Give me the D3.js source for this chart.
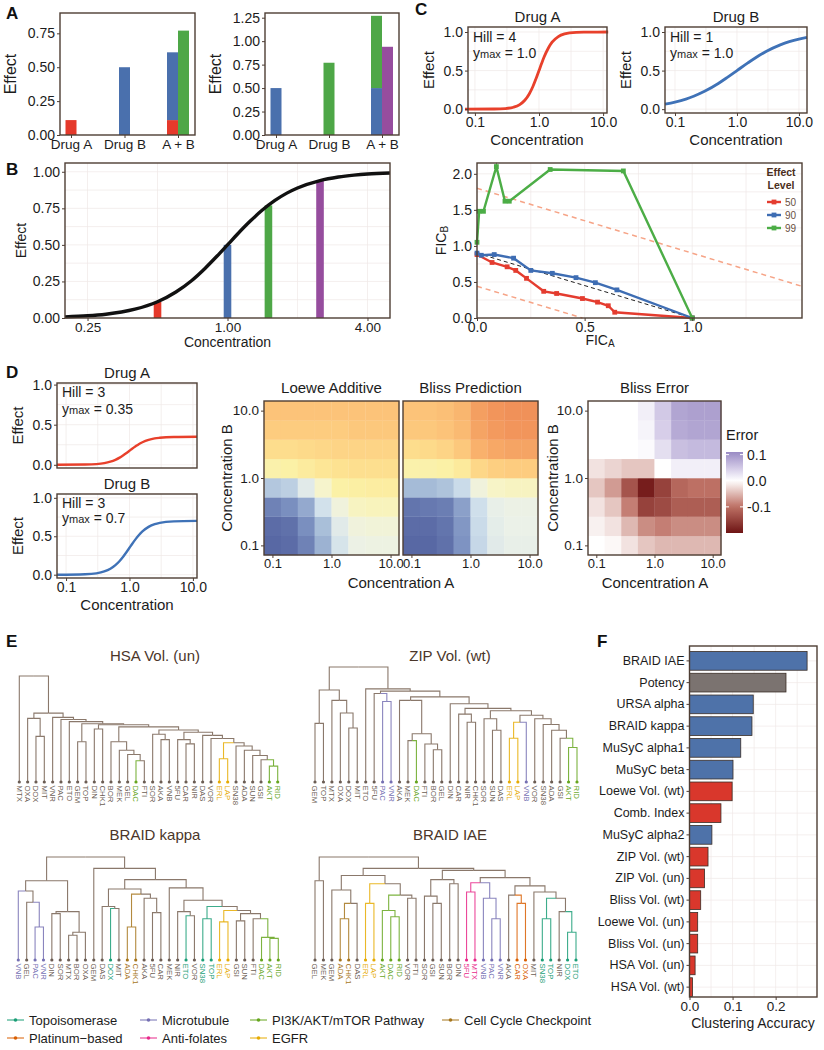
<!DOCTYPE html>
<html>
<head>
<meta charset="utf-8">
<script src="https://cdn.jsdelivr.net/npm/d3@7"></script>
<style>
  body { margin: 0; background: #fff; }
</style>
</head>
<body>
<script>
// ---------- data ----------
// panel A
const aCats = ["Drug A", "Drug B", "A + B"];
const aLeftRed = [0.11, 0, 0.11];
const aLeftBlue = [0, 0.5, 0.5];
const aLeftGreen = [0, 0, 0.77];
const aRightBlue = [0.5, 0, 0.5];
const aRightGreen = [0, 0.77, 0.77];
const aRightPurple = [0, 0, 0.94];
const aLeftTicks = [0, 0.25, 0.5, 0.75];
const aRightTicks = [0, 0.25, 0.5, 0.75, 1, 1.25];

// panel B
const bConc = [0.2, 0.25, 0.3, 0.35, 0.4, 0.5, 0.6, 0.7, 0.8, 0.9, 1, 1.1, 1.25, 1.4, 1.6, 1.8, 2, 2.5, 3, 3.5, 4, 5];
const bEffect = [0.008, 0.015, 0.026, 0.041, 0.06, 0.111, 0.178, 0.255, 0.339, 0.422, 0.5, 0.571, 0.661, 0.733, 0.804, 0.854, 0.889, 0.94, 0.964, 0.977, 0.985, 0.992];
const bBarConc = [0.5, 1, 1.5, 2.5];
const bBarEffect = [0.11, 0.5, 0.77, 0.94];
const bTicks = [0.25, 1, 4];
const effectTicks = [0, 0.25, 0.5, 0.75, 1];

// panel C, single drugs
const cConcA = [0.07, 0.2, 0.3, 0.4, 0.5, 0.6, 0.7, 0.8, 0.9, 1, 1.1, 1.2, 1.4, 1.6, 2, 2.5, 3, 5, 12];
const cEffectA = [0, 0.002, 0.008, 0.025, 0.059, 0.115, 0.194, 0.291, 0.396, 0.5, 0.594, 0.675, 0.793, 0.868, 0.941, 0.975, 0.988, 0.998, 1.0];
const cConcB = [0.069, 0.1, 0.15, 0.2, 0.3, 0.5, 0.7, 1, 1.5, 2, 3, 5, 7, 10, 13.5];
const cEffectB = [0.065, 0.091, 0.13, 0.167, 0.231, 0.333, 0.412, 0.5, 0.6, 0.667, 0.75, 0.833, 0.875, 0.909, 0.931];
const concTicks = [0.1, 1, 10];
const unitTicks = [0, 0.5, 1];

// panel C, isobologram (FIC_A, FIC_B)
const ficLevels = ["50", "90", "99"];
const fic50 = [[0, 0.88], [0.07, 0.77], [0.14, 0.71], [0.18, 0.66], [0.23, 0.55], [0.31, 0.37], [0.37, 0.34], [0.49, 0.27], [0.56, 0.22], [0.61, 0.17], [0.64, 0.08], [1.0, 0]];
const fic90 = [[0, 0.9], [0.02, 0.87], [0.08, 0.88], [0.17, 0.83], [0.25, 0.66], [0.35, 0.62], [0.46, 0.56], [0.55, 0.49], [0.65, 0.39], [1.0, 0]];
const fic99 = [[0, 1.05], [0.01, 1.48], [0.03, 1.48], [0.09, 2.1], [0.13, 1.62], [0.15, 1.62], [0.34, 2.06], [0.68, 2.04], [1.0, 0]];
const ficAdditive = [[0, 0.9], [1.0, 0]];
const ficUpper = [[0, 1.8], [1.51, 0.44]];
const ficLower = [[0, 0.44], [0.49, 0]];
const ficXTicks = [0, 0.5, 1];
const ficYTicks = [0, 0.5, 1, 1.5, 2];

// panel D, single drugs
const dConc = [0.072, 0.2, 0.3, 0.4, 0.5, 0.6, 0.7, 0.8, 0.9, 1, 1.1, 1.25, 1.4, 1.6, 2, 2.5, 3, 5, 11.6];
const dEffectA = [0, 0.003, 0.009, 0.021, 0.039, 0.062, 0.089, 0.119, 0.148, 0.175, 0.2, 0.231, 0.257, 0.281, 0.311, 0.329, 0.337, 0.347, 0.35];
const dEffectB = [0, 0.006, 0.018, 0.042, 0.078, 0.125, 0.179, 0.237, 0.295, 0.35, 0.4, 0.463, 0.513, 0.563, 0.622, 0.658, 0.675, 0.694, 0.7];

// panel D, heatmaps: rows = concentration B (low -> high), columns = concentration A
const concGrid = [0.1, 0.193, 0.373, 0.72, 1.389, 2.683, 5.179, 10];
const loeweGrid = [
  [0.00, 0.01, 0.06, 0.17, 0.30, 0.37, 0.38, 0.38],
  [0.01, 0.02, 0.09, 0.20, 0.33, 0.40, 0.41, 0.41],
  [0.06, 0.09, 0.15, 0.29, 0.40, 0.47, 0.48, 0.48],
  [0.22, 0.24, 0.33, 0.45, 0.52, 0.53, 0.54, 0.54],
  [0.51, 0.52, 0.55, 0.58, 0.60, 0.61, 0.61, 0.61],
  [0.62, 0.62, 0.63, 0.64, 0.65, 0.65, 0.65, 0.65],
  [0.68, 0.68, 0.68, 0.68, 0.68, 0.69, 0.69, 0.69],
  [0.70, 0.70, 0.70, 0.70, 0.70, 0.70, 0.70, 0.70]
];
const blissGrid = [
  [0.00, 0.00, 0.02, 0.10, 0.26, 0.33, 0.35, 0.35],
  [0.01, 0.01, 0.03, 0.11, 0.27, 0.34, 0.36, 0.36],
  [0.03, 0.04, 0.05, 0.13, 0.28, 0.35, 0.37, 0.37],
  [0.19, 0.19, 0.21, 0.27, 0.40, 0.46, 0.47, 0.47],
  [0.51, 0.51, 0.52, 0.56, 0.64, 0.67, 0.68, 0.68],
  [0.62, 0.63, 0.65, 0.69, 0.74, 0.76, 0.77, 0.77],
  [0.69, 0.69, 0.70, 0.72, 0.77, 0.79, 0.80, 0.80],
  [0.70, 0.70, 0.71, 0.73, 0.78, 0.80, 0.81, 0.81]
];
const errorGrid = [
  [0.00, -0.005, -0.02, -0.04, -0.05, -0.05, -0.05, -0.05],
  [-0.01, -0.02, -0.05, -0.08, -0.09, -0.08, -0.08, -0.08],
  [-0.02, -0.04, -0.09, -0.15, -0.14, -0.12, -0.12, -0.12],
  [-0.04, -0.07, -0.13, -0.19, -0.15, -0.11, -0.10, -0.10],
  [-0.02, -0.03, -0.04, -0.04, 0.00, 0.015, 0.015, 0.015],
  [0.00, 0.00, 0.00, 0.005, 0.03, 0.06, 0.065, 0.065],
  [0.00, 0.00, 0.00, 0.01, 0.045, 0.08, 0.085, 0.085],
  [0.00, 0.00, 0.00, 0.015, 0.05, 0.085, 0.09, 0.09]
];
const errorTicks = [0.1, 0, -0.1];

// panel E, drug classes and dendrograms ([height, left, right], leaves are names)
const groupNames = ["Topoisomerase", "Platinum\u2212based", "Microtubule", "Anti-folates", "PI3K/AKT/mTOR Pathway", "EGFR", "Cell Cycle Checkpoint"];
const groupDrugs = [["DOX", "ETO", "SN38", "TOP"], ["CAR", "OXA"], ["VNB", "PAC", "VNR"], ["5FU", "MTX"], ["DAC", "AKT", "RID"], ["ERL", "LAP"], ["ADA", "CHK1"]];

const hsaTree =
[1.00, "MTX",
  [0.65,
    [0.60, "OXA", [0.43, "DOX", "MIT"]],
    [0.61, "VNR",
      [0.59, "PAC",
        [0.57, "ETO",
          [0.55,
            [0.38, "GEM", "TOP"],
            [0.54,
              [0.50, "DIN", "CHK1"],
              [0.52,
                [0.38, "BOR", [0.30, "MEK", [0.26, "GEL", [0.20, "DAC", "FTI"]]]],
                [0.49,
                  [0.45, "SOR", [0.40, "AKA", "VNB"]],
                  [0.47,
                    [0.40, "5FU", [0.36, "CAR", "NIR"]],
                    [0.44, "DAS",
                      [0.41, "VOR",
                        [0.37,
                          [0.22, "ERL", "LAP"],
                          [0.34, "SN38", [0.30, "ADA", [0.25, "SUN", [0.21, "GSI", [0.15, "AKT", "RID"]]]]]
                        ]
                      ]
                    ]
                  ]
                ]
              ]
            ]
          ]
        ]
      ]
    ]
  ]
];
const hsaColored = ["DAC", "ERL", "LAP", "AKT", "RID"];

const zipTree =
[1.00,
  [0.80,
    [0.51, "GEM", "TOP"],
    [0.71, "MTX", [0.60, "OXA", [0.47, "DOX", "MIT"]]]
  ],
  [0.81, "ETO",
    [0.79,
      [0.77, "5FU", [0.70, "PAC", "VNR"]],
      [0.74,
        [0.71, "AKA", [0.42, [0.36, "MEK", "DAC"], [0.33, "FTI", [0.28, "BOR", "GEL"]]]],
        [0.68, "DIN",
          [0.64,
            [0.59, "CAR", [0.52, "NIR", "CHK1"]],
            [0.62,
              [0.55, "SOR", [0.45, "SUN", "DAS"]],
              [0.58,
                [0.52, [0.38, "ERL", "LAP"], "VNB"],
                [0.55, "VOR", [0.50, "SN38", [0.45, "ADA", [0.38, "GSI", [0.30, "AKT", "RID"]]]]]
              ]
            ]
          ]
        ]
      ]
    ]
  ]
];
const zipColored = ["PAC", "VNR", "DAC", "ERL", "LAP", "VNB", "AKT", "RID"];

const kappaTree =
[1.00,
  [0.77,
    [0.67, "VNB", [0.56, "GEL", [0.32, "PAC", "VNR"]]],
    [0.47, [0.45, "DIN", "SOR"], [0.27, [0.24, "MTX", "BOR"], "OXA"]]
  ],
  [0.89, "GEM",
    [0.78,
      [0.69,
        [0.52, "DAS", [0.50, "DOX", "MIT"]],
        [0.64, [0.32, "ADA", "CHK1"], [0.60, "AKA", [0.46, "5FU", "CAR"]]]
      ],
      [0.70, "MEK",
        [0.58,
          [0.47, "NIR", [0.43, "ETO", "VOR"]],
          [0.52,
            [0.40, "SN38", "TOP"],
            [0.48,
              [0.37, "ERL", "LAP"],
              [0.45, [0.38, "GSI", "SUN"], [0.40, "FTI", [0.22, "DAC", [0.21, "AKT", "RID"]]]]
            ]
          ]
        ]
      ]
    ]
  ]
];
const kappaColored = ["VNB", "PAC", "VNR", "DOX", "ADA", "CHK1", "ETO", "SN38", "TOP", "ERL", "LAP", "DAC", "AKT", "RID"];

const iaeTree =
[1.00,
  [0.77, "GEL", "MEK"],
  [0.89,
    [0.82,
      [0.68, "GEM", [0.55, [0.40, "ADA", "CHK1"], "DAS"]],
      [0.74,
        [0.55, "ERL", "LAP"],
        [0.63, [0.48, "AKT", [0.42, "DAC", "RID"]], [0.60, "VOR", "FTI"]]
      ]
    ],
    [0.87,
      [0.78, [0.62, "SOR", [0.55, "GSI", "SUN"]], [0.74, "BOR", "DIN"]],
      [0.80,
        [0.75, [0.66, "5FU", "MTX"], [0.60, "VNB", [0.40, "PAC", "VNR"]]],
        [0.72,
          [0.63, "AKA", [0.55, "CAR", "OXA"]],
          [0.66, "MIT", [0.60, [0.40, "SN38", "TOP"], [0.47, "NIR", [0.27, "DOX", "ETO"]]]]
        ]
      ]
    ]
  ]
];
const iaeColored = ["ADA", "CHK1", "ERL", "LAP", "AKT", "DAC", "RID", "5FU", "MTX", "VNB", "PAC", "VNR", "CAR", "OXA", "SN38", "TOP", "DOX", "ETO"];

// panel F
const fLabels = ["BRAID IAE", "Potency", "URSA alpha", "BRAID kappa", "MuSyC alpha1", "MuSyC beta", "Loewe Vol. (wt)", "Comb. Index", "MuSyC alpha2", "ZIP Vol. (wt)", "ZIP Vol. (un)", "Bliss Vol. (wt)", "Loewe Vol. (un)", "Bliss Vol. (un)", "HSA Vol. (un)", "HSA Vol. (wt)"];
const fValues = [0.273, 0.224, 0.148, 0.145, 0.119, 0.101, 0.099, 0.073, 0.052, 0.043, 0.035, 0.026, 0.019, 0.019, 0.013, 0.007];
const fKinds = ["param", "potency", "param", "param", "param", "param", "volume", "volume", "param", "volume", "volume", "volume", "volume", "volume", "volume", "volume"];
const fTicks = [0, 0.1, 0.2];

// ---------- styles ----------
const FONT = "'Liberation Sans', Arial, Helvetica, sans-serif";
const FRAME = "#4e3e34";
const INK = "#1c1c1c";
const GRID = "#efe8e6";
const RED = "#e5392b", BLUE = "#4a70ad", GREEN = "#4ea747", PURPLE = "#964d9e";
const groupColors = ["#1b9e77", "#d95f02", "#7570b3", "#e7298a", "#66a61e", "#e6ab02", "#a6761d"];
const BRANCH = "#8a786b";
const fColors = { param: "#4e72a9", potency: "#7b7370", volume: "#d9372c" };

const svg = d3.select("body").append("svg")
  .attr("width", 824).attr("height", 1050)
  .style("font-family", FONT);

// ---------- helpers ----------
function frame(x0, x1, y0, y1) {
  svg.append("rect").attr("x", x0).attr("y", y0)
    .attr("width", x1 - x0).attr("height", y1 - y0)
    .attr("fill", "none").attr("stroke", FRAME).attr("stroke-width", 1.4);
}

function styleAxis(g, fs) {
  g.attr("font-family", FONT).attr("font-size", fs);
  g.select(".domain").remove();
  g.selectAll(".tick line").attr("stroke", FRAME);
  g.selectAll(".tick text").attr("fill", INK);
}

function leftAxis(scale, x, vals, fmt, fs) {
  const g = svg.append("g").attr("transform", `translate(${x},0)`)
    .call(d3.axisLeft(scale).tickValues(vals).tickFormat(fmt).tickSize(3).tickPadding(2));
  styleAxis(g, fs);
  return g;
}

function bottomAxis(scale, y, vals, fmt, fs) {
  const g = svg.append("g").attr("transform", `translate(0,${y})`)
    .call(d3.axisBottom(scale).tickValues(vals).tickFormat(fmt).tickSize(3).tickPadding(1));
  styleAxis(g, fs);
  return g;
}

function grid(xs, ys, xv, yv, x0, x1, y0, y1) {
  const g = svg.append("g").attr("stroke", GRID).attr("stroke-width", 0.7);
  xv.forEach(v => g.append("line").attr("x1", xs(v)).attr("x2", xs(v)).attr("y1", y0).attr("y2", y1));
  yv.forEach(v => g.append("line").attr("x1", x0).attr("x2", x1).attr("y1", ys(v)).attr("y2", ys(v)));
}

function text(x, y, s, fs, opts = {}) {
  const t = svg.append("text").attr("x", x).attr("y", y).text(s)
    .attr("font-size", fs).attr("fill", opts.fill || INK)
    .attr("text-anchor", opts.anchor || "middle");
  if (opts.weight) t.attr("font-weight", opts.weight);
  if (opts.rotate) t.attr("transform", `rotate(${opts.rotate},${x},${y})`);
  return t;
}

function panelLetter(x, y, s) {
  text(x, y, s, 17, { anchor: "start", weight: "bold", fill: "#111" });
}

const f2 = d3.format(".2f"), f1 = d3.format(".1f");
const zip = (xs, ys) => xs.map((v, i) => [v, ys[i]]);

// ---------- panel A ----------
function barPanel(x0, x1, y0, y1, yMax, ticks, lower, upper, side, cLow, cUp, cSide) {
  const xs = d3.scalePoint().domain(aCats).range([x0 + 11, x1 - 17]);
  const ys = d3.scaleLinear().domain([0, yMax]).range([y1, y0]);
  const bw = 11;
  aCats.forEach((c, i) => {
    const cx = xs(c), two = side[i] > 0;
    const lx = two ? cx - bw : cx - bw / 2;
    let base = 0;
    [[lower[i], cLow], [upper[i], cUp]].forEach(([v, col]) => {
      if (v > 0) {
        svg.append("rect").attr("x", lx).attr("y", ys(base + v)).attr("width", bw)
          .attr("height", ys(base) - ys(base + v)).attr("fill", col);
        base += v;
      }
    });
    if (two) {
      svg.append("rect").attr("x", cx).attr("y", ys(side[i])).attr("width", bw)
        .attr("height", ys(0) - ys(side[i])).attr("fill", cSide);
    }
  });
  frame(x0, x1, y0, y1);
  leftAxis(ys, x0, ticks, f2, 14);
  bottomAxis(xs, y1, aCats, d => d, 13.5);
  text(x0 - 44, (y0 + y1) / 2, "Effect", 16, { rotate: -90 });
}
barPanel(60, 195, 13, 135, 0.9, aLeftTicks, aLeftRed, aLeftBlue, aLeftGreen, RED, BLUE, GREEN);
barPanel(265, 399, 13, 135, 1.3, aRightTicks, aRightBlue, aRightGreen, aRightPurple, BLUE, GREEN, PURPLE);
panelLetter(6, 19, "A");

// ---------- panel B ----------
{
  const x0 = 65, x1 = 390, y0 = 163, y1 = 318;
  const xs = d3.scaleLog().base(2).domain([0.2, 5]).range([x0, x1]);
  const ys = d3.scaleLinear().domain([0, 1.06]).range([y1, y0]);
  grid(xs, ys, [0.25, 0.5, 1, 2, 4], [0.125, 0.25, 0.375, 0.5, 0.625, 0.75, 0.875, 1], x0, x1, y0, y1);
  const bColors = [RED, BLUE, GREEN, PURPLE];
  bBarConc.forEach((c, i) => {
    svg.append("rect").attr("x", xs(c) - 3.8).attr("y", ys(bBarEffect[i]))
      .attr("width", 7.6).attr("height", ys(0) - ys(bBarEffect[i])).attr("fill", bColors[i]);
  });
  svg.append("path").datum(zip(bConc, bEffect))
    .attr("d", d3.line().x(d => xs(d[0])).y(d => ys(d[1])).curve(d3.curveMonotoneX))
    .attr("fill", "none").attr("stroke", "#111").attr("stroke-width", 3.4);
  frame(x0, x1, y0, y1);
  leftAxis(ys, x0, effectTicks, f2, 14);
  bottomAxis(xs, y1, bTicks, f2, 13.5);
  text((x0 + x1) / 2, 347, "Concentration", 14);
  text(26, (y0 + y1) / 2, "Effect", 14, { rotate: -90 });
  panelLetter(6, 175, "B");
}

// ---------- panel C, single drug curves ----------
function hillPanel(x0, x1, y0, y1, dom, yDom, conc, eff, color, title, hill, ymax, opts) {
  const xs = d3.scaleLog().domain(dom).range([x0, x1]);
  const ys = d3.scaleLinear().domain(yDom).range([y1, y0]);
  grid(xs, ys, [0.1, 0.316, 1, 3.16, 10], opts.gridY, x0, x1, y0, y1);
  svg.append("path").datum(zip(conc, eff))
    .attr("d", d3.line().x(d => xs(d[0])).y(d => ys(d[1])).curve(d3.curveMonotoneX))
    .attr("fill", "none").attr("stroke", color).attr("stroke-width", opts.lw);
  frame(x0, x1, y0, y1);
  leftAxis(ys, x0, unitTicks, f1, opts.fs);
  if (opts.xAxis) bottomAxis(xs, y1, concTicks, f1, opts.fs);
  text((x0 + x1) / 2, y0 - 5, title, 15);
  text(x0 + 5, y0 + opts.ann1, "Hill = " + hill, opts.fs, { anchor: "start" });
  const t = text(x0 + 5, y0 + opts.ann2, "y", opts.fs, { anchor: "start" });
  t.append("tspan").attr("font-size", opts.fs - 3).text("max");
  t.append("tspan").text(" = " + ymax);
  text(x0 - opts.labOff, (y0 + y1) / 2, "Effect", 15, { rotate: -90 });
}
hillPanel(468, 607, 27, 113, [0.078, 11.5], [-0.05, 1.065], cConcA, cEffectA, "#e8402b", "Drug A", 4, "1.0",
  { gridY: [0, 0.25, 0.5, 0.75, 1], lw: 2.8, fs: 14, xAxis: true, ann1: 15, ann2: 31, labOff: 34 });
hillPanel(665, 807, 27, 113, [0.069, 13.5], [-0.05, 1.065], cConcB, cEffectB, "#3f72b7", "Drug B", 1, "1.0",
  { gridY: [0, 0.25, 0.5, 0.75, 1], lw: 2.8, fs: 14, xAxis: true, ann1: 15, ann2: 31, labOff: 34 });
text(537, 145, "Concentration", 15);
text(736, 145, "Concentration", 15);
panelLetter(415, 15, "C");

// ---------- panel C, isobologram ----------
{
  const x0 = 477, x1 = 802, y0 = 163, y1 = 318;
  const xs = d3.scaleLinear().domain([0, 1.51]).range([x0, x1]);
  const ys = d3.scaleLinear().domain([0, 2.15]).range([y1, y0]);
  grid(xs, ys, [0.25, 0.5, 0.75, 1, 1.25], [0.25, 0.5, 0.75, 1, 1.25, 1.5, 1.75, 2], x0, x1, y0, y1);
  const line = d3.line().x(d => xs(d[0])).y(d => ys(d[1]));
  [ficUpper, ficLower].forEach(d => svg.append("path").datum(d).attr("d", line)
    .attr("fill", "none").attr("stroke", "#f6a487").attr("stroke-width", 1.5).attr("stroke-dasharray", "5,4"));
  svg.append("path").datum(ficAdditive).attr("d", line)
    .attr("fill", "none").attr("stroke", "#222").attr("stroke-width", 1).attr("stroke-dasharray", "4,3");
  const ficColors = ["#e43c2f", "#3e6db3", "#4cad46"];
  [fic50, fic90, fic99].forEach((d, i) => {
    svg.append("path").datum(d).attr("d", line)
      .attr("fill", "none").attr("stroke", ficColors[i]).attr("stroke-width", 2.4);
    svg.append("g").selectAll("rect").data(d).join("rect")
      .attr("x", p => xs(p[0]) - 2.4).attr("y", p => ys(p[1]) - 2.4)
      .attr("width", 4.8).attr("height", 4.8).attr("fill", ficColors[i]);
  });
  frame(x0, x1, y0, y1);
  leftAxis(ys, x0, ficYTicks, f1, 14);
  bottomAxis(xs, y1, ficXTicks, f1, 14);
  const tx = text(600, 345, "FIC", 14);
  tx.append("tspan").attr("font-size", 10).attr("dy", 2).text("A");
  const ty = text(446, (y0 + y1) / 2, "FIC", 14, { rotate: -90 });
  ty.append("tspan").attr("font-size", 10).attr("dy", 2).text("B");
  // legend
  text(781, 176, "Effect", 10.5, { weight: "bold", fill: "#4a2e20" });
  text(781, 189, "Level", 10.5, { weight: "bold", fill: "#4a2e20" });
  ficLevels.forEach((lv, i) => {
    const ly = 202 + i * 13;
    svg.append("line").attr("x1", 767).attr("x2", 781).attr("y1", ly).attr("y2", ly)
      .attr("stroke", ficColors[i]).attr("stroke-width", 2.4);
    svg.append("rect").attr("x", 771.6).attr("y", ly - 2.4).attr("width", 4.8).attr("height", 4.8).attr("fill", ficColors[i]);
    text(785, ly + 3.5, lv, 10, { anchor: "start", fill: "#6a5042" });
  });
}

// ---------- panel D, single drugs ----------
hillPanel(57, 197, 383, 468, [0.072, 11.6], [-0.04, 1.02], dConc, dEffectA, "#e8402b", "Drug A", 3, "0.35",
  { gridY: [0, 0.25, 0.5, 0.75, 1], lw: 2.4, fs: 14, xAxis: false, ann1: 14, ann2: 31, labOff: 34 });
hillPanel(57, 197, 494, 578, [0.072, 11.6], [-0.043, 1.05], dConc, dEffectB, "#3f72b7", "Drug B", 3, "0.7",
  { gridY: [0, 0.25, 0.5, 0.75, 1], lw: 2.4, fs: 14, xAxis: true, ann1: 14, ann2: 29, labOff: 34 });
text(127, 610, "Concentration", 15);
panelLetter(6, 378, "D");

// ---------- panel D, heatmaps ----------
const edges = concGrid.map((c, i) => i === 0 ? c / Math.sqrt(concGrid[1] / c) : Math.sqrt(concGrid[i - 1] * c));
edges.push(concGrid[7] * Math.sqrt(concGrid[7] / concGrid[6]));
const effColor = d3.scaleLinear()
  .domain([0, 0.1, 0.2, 0.28, 0.36, 0.45, 0.52, 0.6, 0.68, 0.75, 0.82])
  .range(["#5868a4", "#7e93c2", "#a9bfd9", "#cfdfeb", "#ebf1e8", "#f6f4cc", "#fbf1a6", "#fde291", "#fdcc7f", "#f8ad69", "#ef8c56"])
  .clamp(true);
const errColor = d3.scaleLinear()
  .domain([-0.2, -0.1, 0, 0.05, 0.11])
  .range(["#6e1414", "#bd7064", "#ffffff", "#d2c9e6", "#9a8bc4"])
  .clamp(true);

function heatmap(x0, x1, y0, y1, gridVals, color, title, yAxis) {
  const xs = d3.scaleLog().domain([edges[0], edges[8]]).range([x0, x1]);
  const ys = d3.scaleLog().domain([edges[0], edges[8]]).range([y1, y0]);
  gridVals.forEach((row, r) => row.forEach((v, c) => {
    svg.append("rect").attr("x", xs(edges[c])).attr("y", ys(edges[r + 1]))
      .attr("width", xs(edges[c + 1]) - xs(edges[c]) + 0.3)
      .attr("height", ys(edges[r]) - ys(edges[r + 1]) + 0.3)
      .attr("fill", color(v));
  }));
  frame(x0, x1, y0, y1);
  bottomAxis(xs, y1, concTicks, f1, 13);
  if (yAxis) leftAxis(ys, x0, concTicks, f1, 13.5);
  text((x0 + x1) / 2, y0 - 8, title, 15);
}
heatmap(264, 399, 401, 555, loeweGrid, effColor, "Loewe Additive", true);
heatmap(403, 538, 401, 555, blissGrid, effColor, "Bliss Prediction", false);
heatmap(588, 721, 401, 555, errorGrid, errColor, "Bliss Error", true);
text(401, 588, "Concentration A", 15);
text(655, 588, "Concentration A", 15);
text(232, 478, "Concentration B", 15, { rotate: -90 });
text(558, 478, "Concentration B", 15, { rotate: -90 });
{
  // error legend
  const lx = 726, ly0 = 452, ly1 = 533;
  const ls = d3.scaleLinear().domain([-0.2, 0.11]).range([ly1, ly0]);
  const grad = svg.append("defs").append("linearGradient").attr("id", "errGrad")
    .attr("x1", 0).attr("x2", 0).attr("y1", 1).attr("y2", 0);
  d3.range(0, 1.0001, 0.05).forEach(t => {
    const v = -0.2 + t * 0.31;
    grad.append("stop").attr("offset", t).attr("stop-color", errColor(v));
  });
  svg.append("rect").attr("x", lx).attr("y", ly0).attr("width", 17).attr("height", ly1 - ly0).attr("fill", "url(#errGrad)");
  errorTicks.forEach(v => {
    svg.append("line").attr("x1", lx).attr("x2", lx + 3).attr("y1", ls(v)).attr("y2", ls(v)).attr("stroke", "#fff");
    svg.append("line").attr("x1", lx + 14).attr("x2", lx + 17).attr("y1", ls(v)).attr("y2", ls(v)).attr("stroke", "#fff");
    text(lx + 21, ls(v) + 5, f1(v).replace("\u2212", "-"), 14, { anchor: "start" });
  });
  text(lx, 440, "Error", 14.5, { anchor: "start" });
}

// ---------- panel E, dendrograms ----------
const drugGroup = {};
groupDrugs.forEach((list, gi) => list.forEach(d => { drugGroup[d] = gi; }));

function dendrogram(tree, colored, x0, x1, yLeaf, yTop, title, tx, ty) {
  const leaves = [];
  (function collect(n) {
    if (typeof n === "string") leaves.push(n);
    else { collect(n[1]); collect(n[2]); }
  })(tree);
  const xs = d3.scalePoint().domain(leaves).range([x0, x1]);
  const ys = d3.scaleLinear().domain([0, 1]).range([yLeaf, yTop]);
  function build(n) {
    if (typeof n === "string") {
      const col = colored.includes(n) ? groupColors[drugGroup[n]] : null;
      return { name: n, x: xs(n), h: 0, col };
    }
    const l = build(n[1]), r = build(n[2]);
    return { h: n[0], l, r, x: (l.x + r.x) / 2, col: (l.col && l.col === r.col) ? l.col : null };
  }
  const root = build(tree);
  const g = svg.append("g").attr("fill", "none").attr("stroke-width", 1.1);
  (function draw(n) {
    if (!n.l) return;
    [n.l, n.r].forEach(c => {
      g.append("path").attr("d", `M${n.x},${ys(n.h)}H${c.x}V${ys(c.h)}`)
        .attr("stroke", c.col || BRANCH).attr("stroke-opacity", c.col ? 0.85 : 1);
      draw(c);
    });
  })(root);
  leaves.forEach(name => {
    const col = colored.includes(name) ? groupColors[drugGroup[name]] : "#6b5d54";
    svg.append("circle").attr("cx", xs(name)).attr("cy", yLeaf).attr("r", 1.6).attr("fill", col);
    svg.append("text").attr("x", xs(name)).attr("y", yLeaf + 3.5)
      .attr("transform", `rotate(90,${xs(name)},${yLeaf + 3.5})`)
      .attr("dy", "0.33em").attr("font-size", 7.8).attr("fill", col).text(name);
  });
  text(tx, ty, title, 15, { fill: "#4b362a" });
}
dendrogram(hsaTree, hsaColored, 19.3, 277.7, 782, 676, "HSA Vol. (un)", 155, 661);
dendrogram(zipTree, zipColored, 315, 577, 782, 667, "ZIP Vol. (wt)", 450, 661);
dendrogram(kappaTree, kappaColored, 18.3, 278.3, 960, 857, "BRAID kappa", 155, 840);
dendrogram(iaeTree, iaeColored, 315, 576, 960, 857, "BRAID IAE", 450, 840);
panelLetter(6, 647, "E");

// legend for drug classes
const legCols = [7, 140, 250, 442];
groupNames.forEach((name, i) => {
  const lx = legCols[Math.floor(i / 2)], ly = 1020 + (i % 2) * 18;
  svg.append("line").attr("x1", lx).attr("x2", lx + 17).attr("y1", ly).attr("y2", ly)
    .attr("stroke", groupColors[i]).attr("stroke-width", 1);
  svg.append("circle").attr("cx", lx + 8.5).attr("cy", ly).attr("r", 1.8).attr("fill", groupColors[i]);
  text(lx + 22, ly + 4.5, name, 13, { anchor: "start" });
});

// ---------- panel F ----------
{
  const x0 = 689.5, x1 = 817, y0 = 646, y1 = 997;
  const xs = d3.scaleLinear().domain([0, 0.296]).range([x0, x1]);
  const ys = d3.scaleBand().domain(fLabels).range([650, 998]).paddingInner(0.14).paddingOuter(0.07);
  grid(xs, d => ys(d) + ys.bandwidth() / 2, [0, 0.05, 0.1, 0.15, 0.2, 0.25], fLabels, x0, x1, y0, y1);
  svg.append("g").selectAll("rect").data(fLabels).join("rect")
    .attr("x", x0).attr("y", d => ys(d))
    .attr("width", (d, i) => xs(fValues[i]) - x0).attr("height", ys.bandwidth())
    .attr("fill", (d, i) => fColors[fKinds[i]])
    .attr("stroke", "#3a2d26").attr("stroke-width", 0.8);
  frame(x0, x1, y0, y1);
  leftAxis(ys, x0, fLabels, d => d, 12.5);
  bottomAxis(xs, y1, fTicks, f1, 13.5);
  text(753, 1028, "Clustering Accuracy", 14);
  panelLetter(597, 647, "F");
}
</script>
</body>
</html>
